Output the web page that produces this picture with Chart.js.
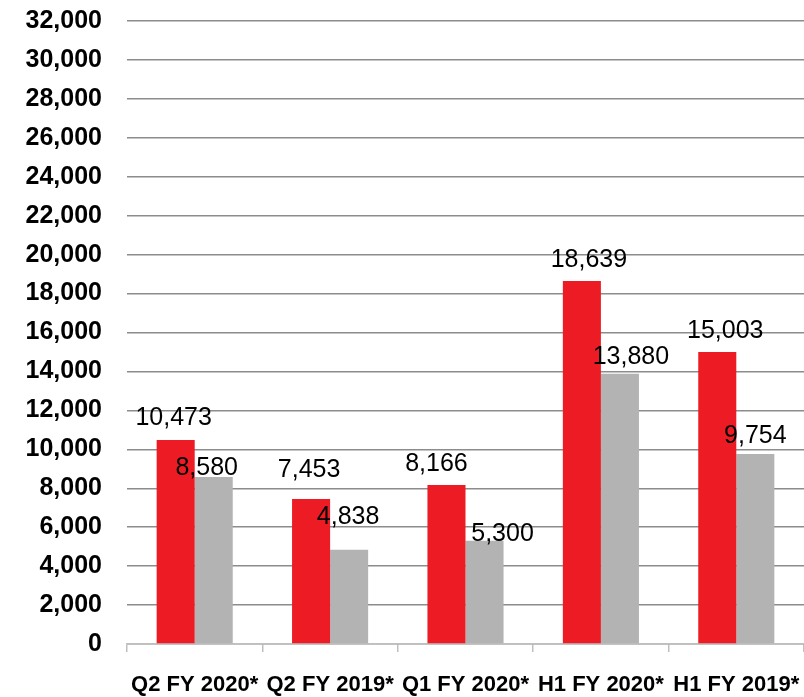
<!DOCTYPE html>
<html>
<head>
<meta charset="utf-8">
<script src="https://cdn.jsdelivr.net/npm/chart.js@4/dist/chart.umd.min.js"></script>
<style>
  html, body { margin: 0; padding: 0; background: #fff; }
  #wrap { width: 804px; height: 697px; position: relative; }
</style>
</head>
<body>
<div id="wrap"><canvas id="salesChart"></canvas></div>
<script>
// periods and the two series shown side by side
const periods = ['Q2 FY 2020*', 'Q2 FY 2019*', 'Q1 FY 2020*', 'H1 FY 2020*', 'H1 FY 2019*'];
const redValues = [10473, 7453, 8166, 18639, 15003];
const greyValues = [8580, 4838, 5300, 13880, 9754];
const yTicks = { min: 0, max: 32000, step: 2000 };

const FONT = '"Liberation Sans", Arial, sans-serif';

// value labels: nudge each one a little (dx, lift above bar top)
const labelNudge = [
  { dx: [-2, -2, -10, 7, 8], lift: [15, 22, 14, 14, 14] },
  { dx: [-7, -1, 18, 11, 0], lift: [2, 26, 0, 10, 11] }
];

const valueLabels = {
  id: 'valueLabels',
  afterDatasetsDraw(chart) {
    const ctx = chart.ctx;
    ctx.save();
    ctx.font = '25px ' + FONT;
    ctx.fillStyle = '#000';
    ctx.textAlign = 'center';
    ctx.textBaseline = 'alphabetic';
    chart.data.datasets.forEach((ds, di) => {
      chart.getDatasetMeta(di).data.forEach((bar, i) => {
        const n = labelNudge[di];
        ctx.fillText(ds.data[i].toLocaleString('en-US'), bar.x + n.dx[i], bar.y - n.lift[i]);
      });
    });
    ctx.restore();
  }
};

new Chart(document.getElementById('salesChart').getContext('2d'), {
  type: 'bar',
  data: {
    labels: periods,
    datasets: [
      { data: redValues, backgroundColor: '#ed1c24' },
      { data: greyValues, backgroundColor: '#b3b3b3' }
    ]
  },
  options: {
    responsive: true,
    maintainAspectRatio: false,
    animation: false,
    layout: { padding: { top: 21, right: 0, bottom: 0, left: 0 } },
    datasets: { bar: { categoryPercentage: 0.562, barPercentage: 1 } },
    plugins: { legend: { display: false }, tooltip: { enabled: false } },
    scales: {
      x: {
        grid: { drawOnChartArea: false, drawTicks: true, tickLength: 8, color: '#bfbfbf', lineWidth: 1.5 },
        border: { color: '#bfbfbf', width: 1.5 },
        ticks: { color: '#000', font: { family: FONT, size: 22, weight: 'bold' }, padding: 20, maxRotation: 0, autoSkip: false },
        afterFit(s) { s.height = 53; s.paddingLeft = 0; s.paddingRight = 0; }
      },
      y: {
        min: yTicks.min,
        max: yTicks.max,
        grid: { drawTicks: false, color: '#8c8c8c', lineWidth: 1.5 },
        border: { display: false },
        ticks: {
          stepSize: yTicks.step,
          color: '#000',
          padding: 25,
          font: { family: FONT, size: 25, weight: 'bold' },
          callback: v => v.toLocaleString('en-US')
        },
        afterFit(s) { s.width = 127; s.paddingTop = 0; s.paddingBottom = 0; }
      }
    }
  },
  plugins: [valueLabels]
});
</script>
</body>
</html>
